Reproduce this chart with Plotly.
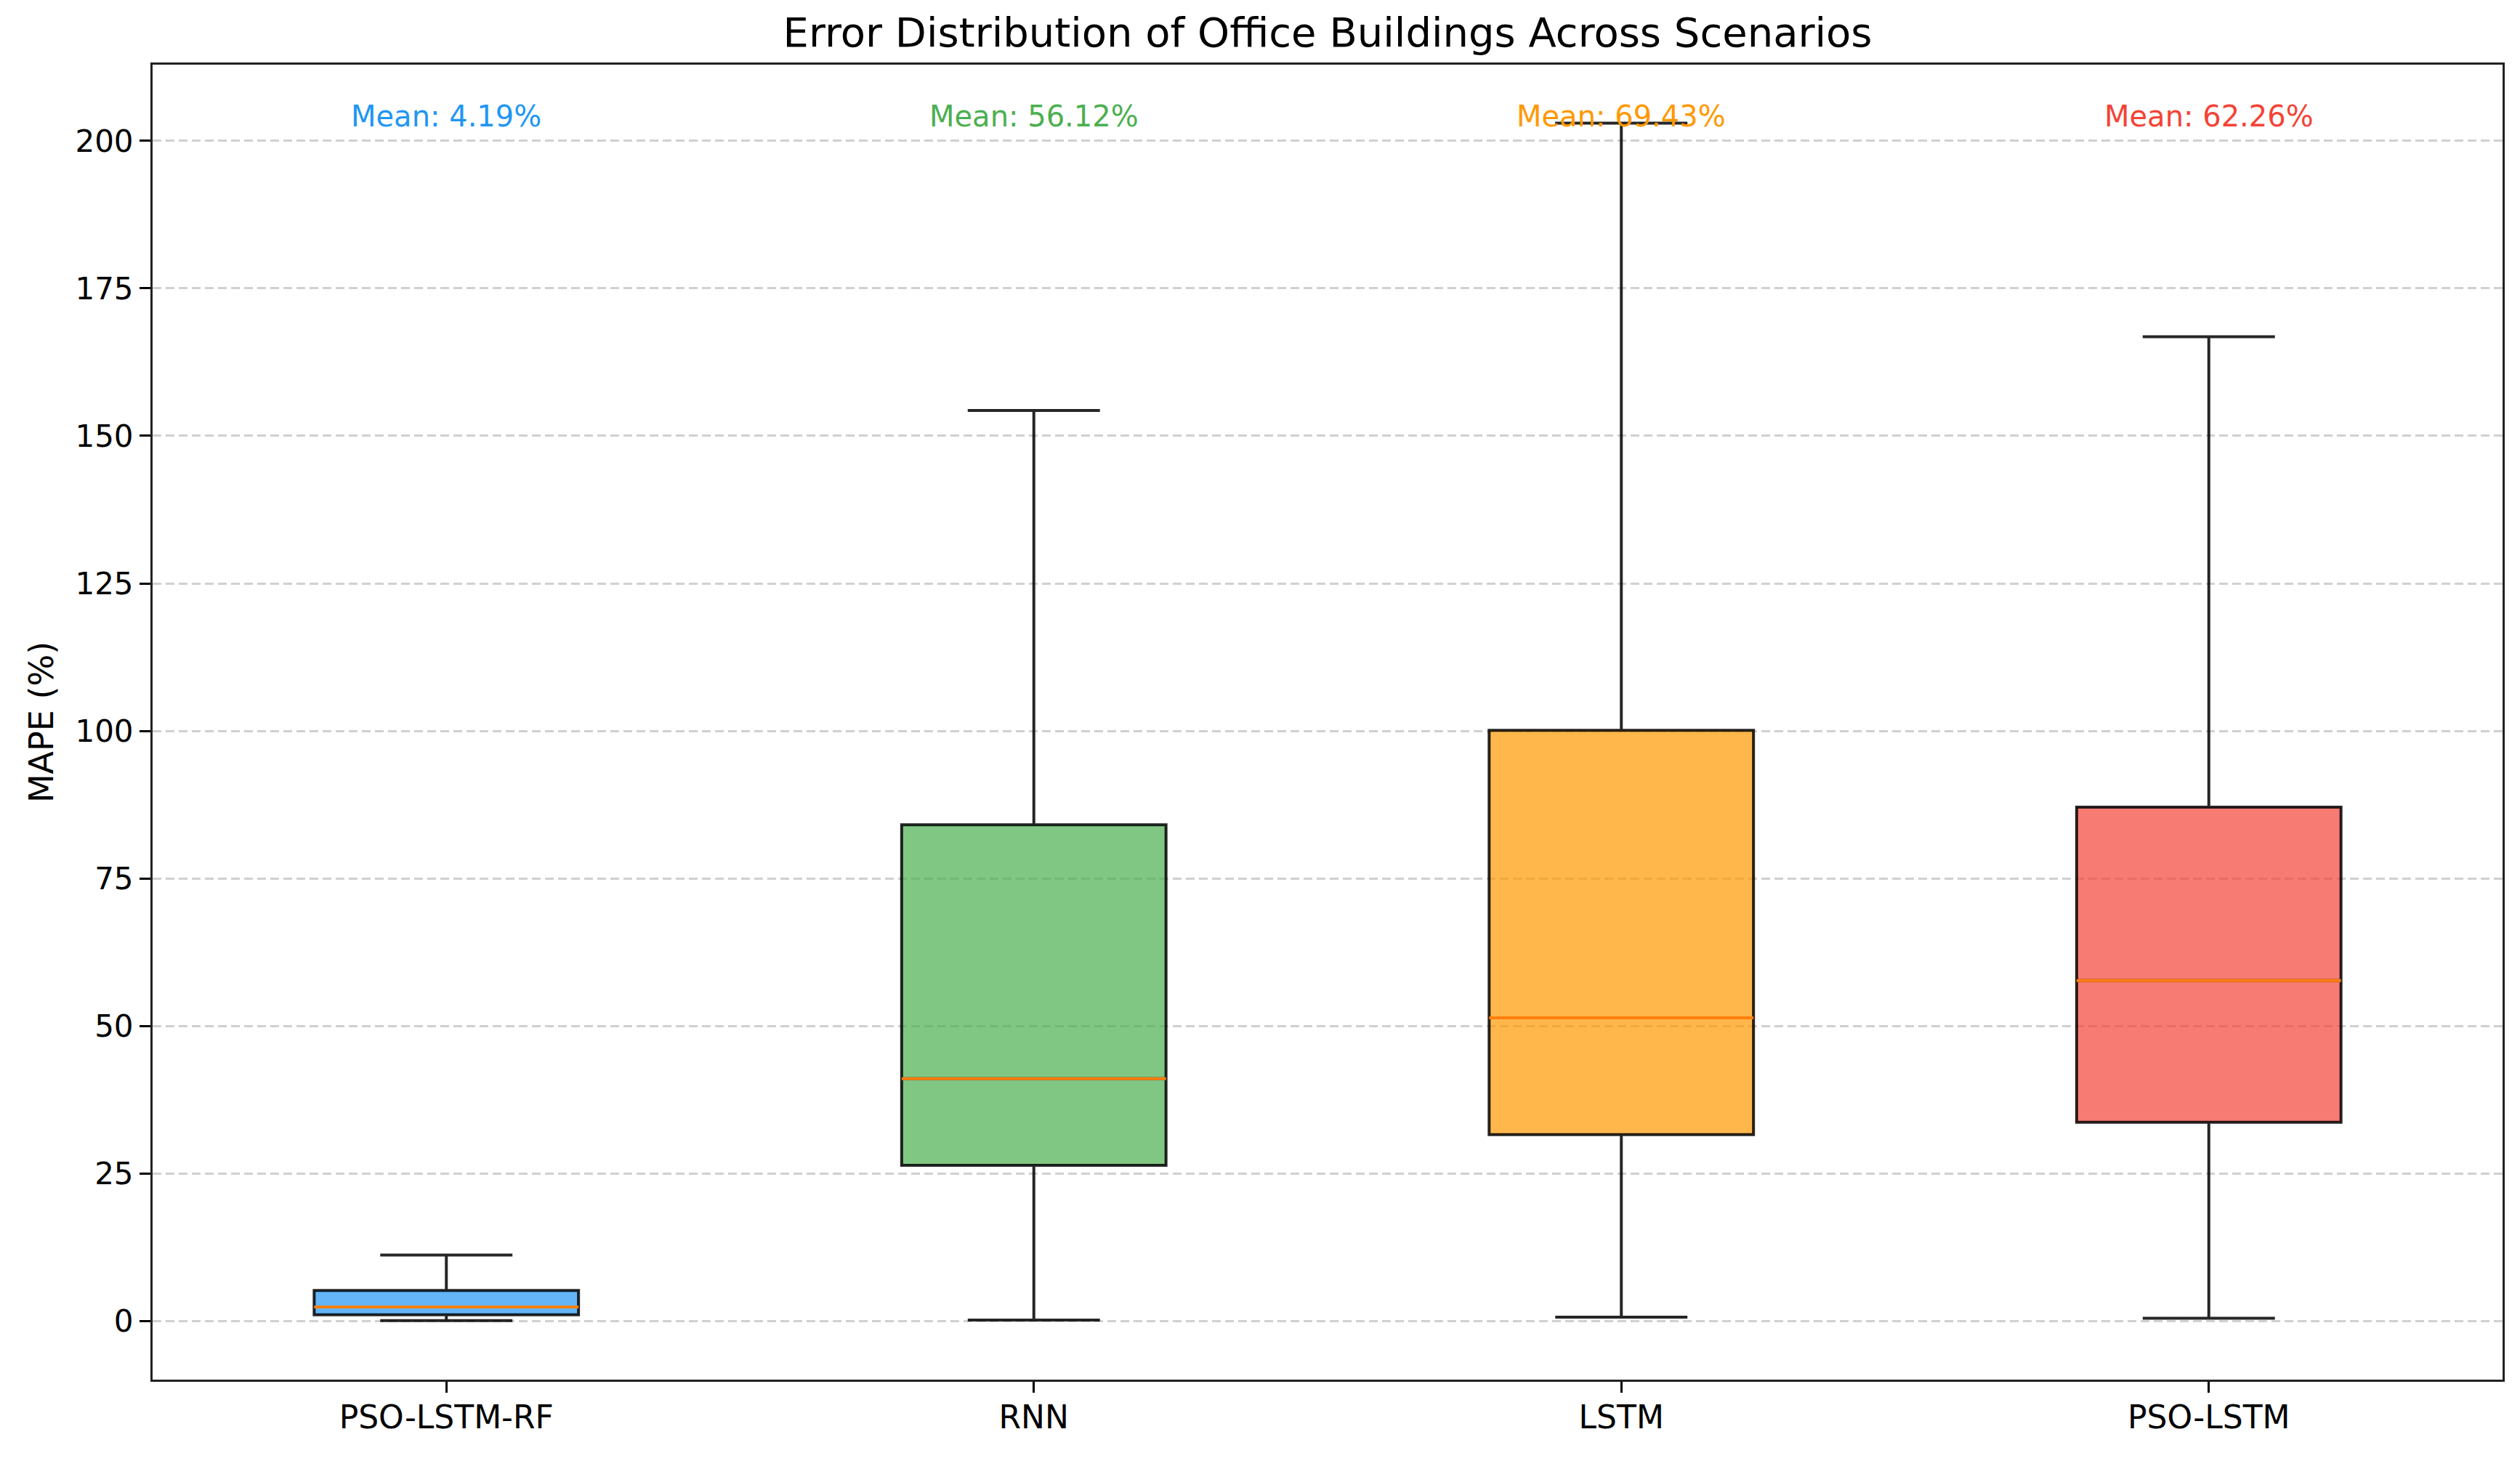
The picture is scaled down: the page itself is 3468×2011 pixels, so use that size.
import plotly.graph_objects as go

# Box statistics (MAPE %)
models = ["PSO-LSTM-RF", "RNN", "LSTM", "PSO-LSTM"]
positions = [1, 2, 3, 4]
lower_whisker = [0.1, 0.2, 0.7, 0.5]
q1 = [1.1, 26.4, 31.6, 33.7]
median = [2.4, 41.1, 51.4, 57.7]
q3 = [5.2, 84.1, 100.1, 87.1]
upper_whisker = [11.2, 154.3, 203.0, 166.8]
means = [4.19, 56.12, 69.43, 62.26]

base_colors = ["#2196F3", "#4CAF50", "#FF9800", "#F44336"]
fill_colors = ["rgba(33,150,243,0.7)", "rgba(76,175,80,0.7)",
               "rgba(255,152,0,0.7)", "rgba(244,67,54,0.7)"]

box_width = 0.45
font_family = "DejaVu Sans"

fig = go.Figure()

for i, name in enumerate(models):
    fig.add_trace(go.Box(
        x=[positions[i]],
        q1=[q1[i]],
        median=[median[i]],
        q3=[q3[i]],
        lowerfence=[lower_whisker[i]],
        upperfence=[upper_whisker[i]],
        width=box_width,
        whiskerwidth=0.5,
        fillcolor=fill_colors[i],
        line=dict(color="rgba(0,0,0,0.85)", width=4),
        boxpoints=False,
        hoverinfo="skip",
        showlegend=False,
        name=name,
    ))

# orange median lines like matplotlib
for i, name in enumerate(models):
    fig.add_trace(go.Scatter(
        x=[positions[i] - box_width / 2, positions[i] + box_width / 2],
        y=[median[i], median[i]],
        mode="lines",
        line=dict(color="#ff7f0e", width=4),
        hoverinfo="skip",
        showlegend=False,
    ))

# mean labels above each box
for i, name in enumerate(models):
    fig.add_annotation(
        x=positions[i], y=204.1,
        xref="x", yref="y",
        text=f"Mean: {means[i]:.2f}%",
        showarrow=False,
        font=dict(family=font_family, size=40, color=base_colors[i]),
        xanchor="center", yanchor="middle",
    )

fig.update_layout(
    width=3468,
    height=2011,
    paper_bgcolor="white",
    plot_bgcolor="white",
    margin=dict(l=202, r=32, t=81, b=120),
    font=dict(family=font_family, size=42, color="black"),
    title=dict(
        text="Error Distribution of Office Buildings Across Scenarios",
        font=dict(family=font_family, size=56, color="black"),
        x=0.5, xref="paper", xanchor="center",
        y=1 - 36 / 2011, yref="container", yanchor="middle",
    ),
    showlegend=False,
)

fig.update_xaxes(
    range=[0.5, 4.5],
    tickmode="array",
    tickvals=positions,
    ticktext=models,
    ticks="outside",
    ticklen=15,
    tickwidth=3,
    tickcolor="black",
    ticklabelstandoff=-4,
    showgrid=False,
    zeroline=False,
    showline=True,
    linecolor="#222222",
    linewidth=3,
    mirror=True,
    tickfont=dict(family=font_family, size=44, color="black"),
)

fig.update_yaxes(
    range=[-9.9, 212.9],
    tickmode="array",
    tickvals=[0, 25, 50, 75, 100, 125, 150, 175, 200],
    ticks="outside",
    ticklen=15,
    tickwidth=3,
    tickcolor="black",
    showgrid=True,
    gridcolor="#d0d0d0",
    gridwidth=3,
    griddash="12px,6px",
    zeroline=False,
    showline=True,
    linecolor="#222222",
    linewidth=3,
    mirror=True,
    tickfont=dict(family=font_family, size=42, color="black"),
    title=dict(text="MAPE (%)", standoff=16,
               font=dict(family=font_family, size=46, color="black")),
)

fig.write_html("out.html")
